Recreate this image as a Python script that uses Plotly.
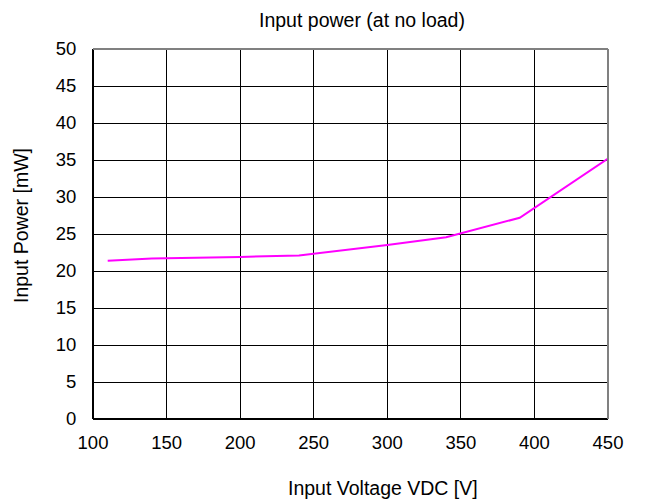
import plotly.graph_objects as go

voltage = [110, 140, 200, 240, 300, 340, 390, 450]
power = [21.4, 21.7, 21.9, 22.1, 23.5, 24.55, 27.2, 35.2]

x_ticks = [100, 150, 200, 250, 300, 350, 400, 450]
y_ticks = [0, 5, 10, 15, 20, 25, 30, 35, 40, 45, 50]

FONT = "Liberation Sans, Arial, sans-serif"

fig = go.Figure()
fig.add_trace(go.Scatter(x=voltage, y=power, mode="lines",
                         line=dict(color="#ff00ff", width=2), showlegend=False))

fig.update_layout(
    width=637, height=495,
    margin=dict(l=85, r=37, t=41, b=84),
    paper_bgcolor="white", plot_bgcolor="white",
    font=dict(family=FONT, color="black", size=18),
)
fig.update_xaxes(range=[100, 450], tickvals=x_ticks, ticktext=[str(v) for v in x_ticks],
                 showgrid=True, gridcolor="black", gridwidth=1,
                 zeroline=False, showline=False,
                 ticks="outside", ticklen=7, tickcolor="rgba(0,0,0,0)",
                 tickfont=dict(family=FONT, size=18.5))
fig.update_yaxes(range=[0, 50], tickvals=y_ticks, ticktext=[str(v) for v in y_ticks],
                 showgrid=True, gridcolor="black", gridwidth=1,
                 zeroline=False, showline=False,
                 ticks="outside", ticklen=12, tickcolor="rgba(0,0,0,0)",
                 tickfont=dict(family=FONT, size=18.5))

fig.add_annotation(text="Input power (at no load)", xref="paper", yref="paper",
                   x=0.5233, y=411 / 370, xanchor="center", yanchor="top",
                   borderpad=0, showarrow=False,
                   font=dict(family=FONT, size=19.5, color="black"))
fig.add_annotation(text="Input Voltage VDC [V]", xref="paper", yref="paper",
                   x=0.563, y=-0.186, xanchor="center", yanchor="middle",
                   showarrow=False, font=dict(family=FONT, size=19.5, color="black"))
fig.add_annotation(text="Input Power [mW]", xref="paper", yref="paper",
                   x=-0.1398, y=0.5216, xanchor="center", yanchor="middle",
                   textangle=-90,
                   showarrow=False, font=dict(family=FONT, size=19.5, color="black"))

# frame: left/bottom black, top/right gray
fig.add_shape(type="line", xref="paper", yref="paper", x0=0, x1=0, y0=0, y1=1,
              line=dict(color="black", width=2))
fig.add_shape(type="line", xref="paper", yref="paper", x0=0, x1=1, y0=0, y1=0,
              line=dict(color="black", width=2))
fig.add_shape(type="line", xref="paper", yref="paper", x0=0, x1=1, y0=1, y1=1,
              line=dict(color="#808080", width=2))
fig.add_shape(type="line", xref="paper", yref="paper", x0=1, x1=1, y0=0, y1=1,
              line=dict(color="#808080", width=2))

fig.write_html("out.html")
